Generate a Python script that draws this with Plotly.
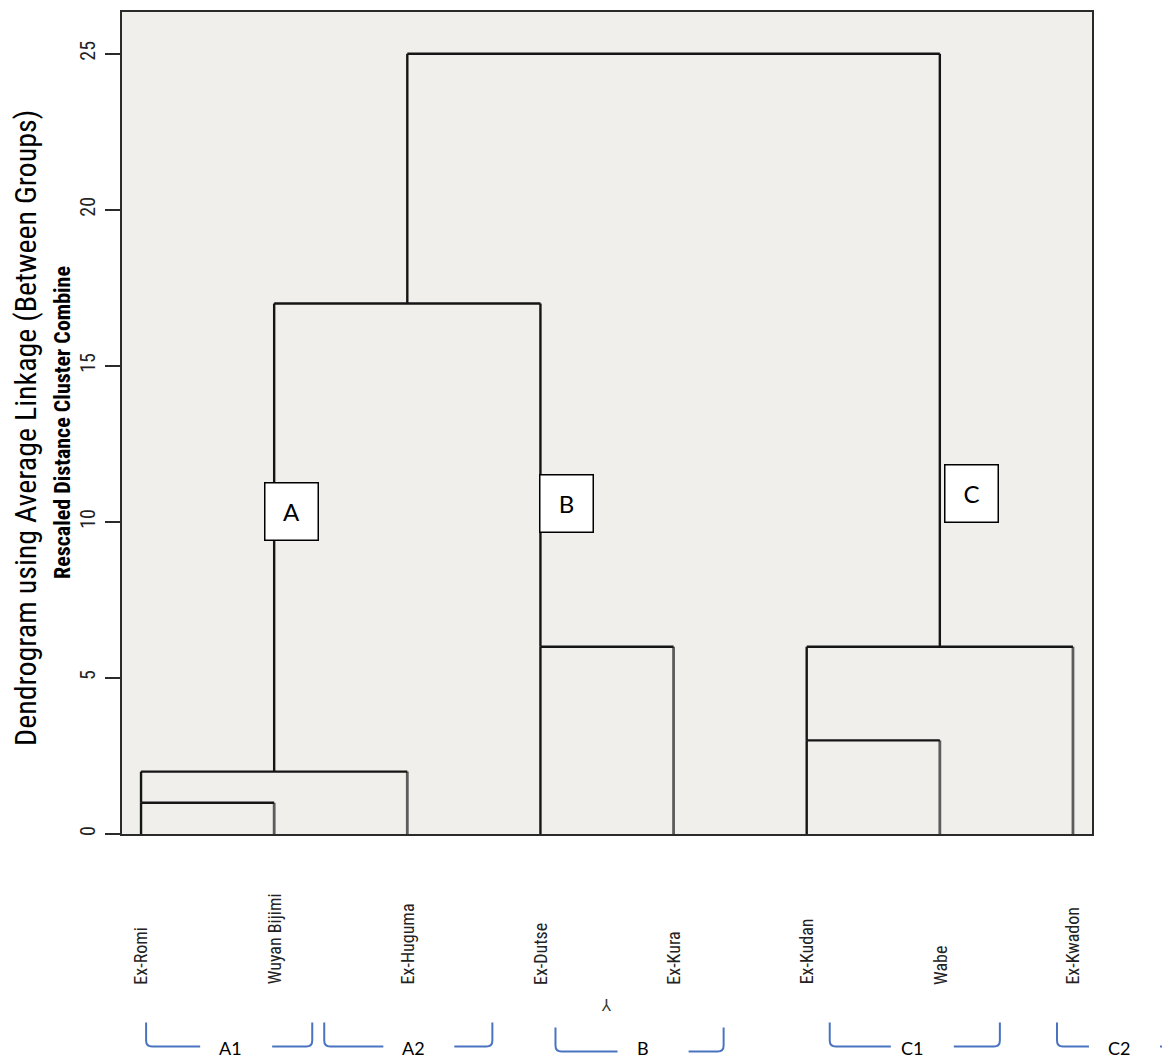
import math
import plotly.graph_objects as go

# ---------------- data ----------------
leaf_labels = ["Ex-Romi", "Wuyan Bijimi", "Ex-Huguma", "Ex-Dutse",
               "Ex-Kura", "Ex-Kudan", "Wabe", "Ex-Kwadon"]
# agglomeration steps: nodes 0-7 are leaves, node 8+k is created by step k
merge_left = [0, 8, 5, 3, 10, 9, 13]
merge_right = [1, 2, 6, 4, 7, 11, 12]
merge_height = [1, 2, 3, 6, 6, 17, 25]   # rescaled distance cluster combine
y_ticks = [0, 5, 10, 15, 20, 25]

cluster_names = ["A", "B", "C"]
cluster_label_x = [2.13, 4.195, 7.24]      # in leaf units
cluster_label_y = [10.34, 10.58, 10.90]    # in rescaled distance

group_names = ["A1", "A2", "B", "C1", "C2"]
group_label_x = [1.669, 3.045, 4.774, 6.789, 8.346]
group_left_piece = [(1.038, 1.444), (2.376, 2.820), (4.113, 4.579), (6.173, 6.632), (7.880, 8.120)]
group_right_piece = [(1.985, 2.286), (3.353, 3.639), (5.113, 5.376), (7.105, 7.451), (8.654, 8.962)]
group_drop = [0, 0, 1, 0, 0]   # B bracket sits slightly lower

# ---------------- layout constants ----------------
BODY = 8                       # default page margin of the html body
W, H = 1170 - BODY, 1059 - BODY
M_L, M_R, M_T, M_B = 122 - BODY, 78, 10 - BODY, 225
X_RANGE = [0.857, 8.143]
Y_RANGE = [0, 26.34]
PLOT_W = W - M_L - M_R
PLOT_H = H - M_T - M_B
PLOT_LEFT_PAGE = M_L + BODY
AXIS_PAGE_Y = 834

NARROW = "Liberation Sans Narrow, Arial Narrow, Roboto Condensed, Liberation Sans, sans-serif"
CAL = "Lato, Carlito, Calibri, Open Sans, sans-serif"

def xpaper(u):
    return (u - X_RANGE[0]) / (X_RANGE[1] - X_RANGE[0])

def xpage(px):
    return (px - PLOT_LEFT_PAGE) / PLOT_W

def ypage(py):
    return (AXIS_PAGE_Y - py) / PLOT_H

def ypx(px_below_axis):
    return -px_below_axis / PLOT_H

# ---------------- build dendrogram segments ----------------
n = len(leaf_labels)
node_x = {i: i + 1 for i in range(n)}
node_h = {i: 0 for i in range(n)}
dark_x, dark_y, grey_x, grey_y = [], [], [], []
for k, (l, r, h) in enumerate(zip(merge_left, merge_right, merge_height)):
    xl, xr = node_x[l], node_x[r]
    dark_x += [xl, xl, None]; dark_y += [node_h[l], h, None]
    if r < n:   # leaf legs on the right side are drawn in a softer grey
        grey_x += [xr, xr, None]; grey_y += [node_h[r], h, None]
    else:
        dark_x += [xr, xr, None]; dark_y += [node_h[r], h, None]
    dark_x += [xl, xr, None]; dark_y += [h, h, None]
    node_x[n + k] = math.floor((xl + xr) / 2)
    node_h[n + k] = h

fig = go.Figure()
fig.add_trace(go.Scatter(x=grey_x, y=grey_y, mode="lines",
                         line=dict(color="#5c5c5c", width=2.8),
                         hoverinfo="skip", showlegend=False, cliponaxis=False))
fig.add_trace(go.Scatter(x=dark_x, y=dark_y, mode="lines",
                         line=dict(color="#151515", width=2.4),
                         hoverinfo="skip", showlegend=False, cliponaxis=False))

annotations = []
for i, lab in enumerate(leaf_labels):
    annotations.append(dict(x=i + 1, xref="x", y=ypx(153), yref="paper",
                            text=lab, textangle=-90, showarrow=False,
                            xanchor="center", yanchor="bottom",
                            font=dict(family=NARROW, size=18, color="#222")))

for name, cx, cy in zip(cluster_names, cluster_label_x, cluster_label_y):
    annotations.append(dict(x=cx, xref="x", y=cy, yref="y", text=name,
                            showarrow=False, width=52, height=56,
                            xanchor="center", yanchor="middle",
                            bgcolor="white", bordercolor="black",
                            borderwidth=1.5, borderpad=0,
                            font=dict(family=CAL, size=24, color="black")))

annotations.append(dict(x=xpage(26), xref="paper", y=ypage(427),
                        yref="paper", textangle=-90, showarrow=False,
                        xanchor="center", yanchor="middle",
                        text="Dendrogram using Average Linkage (Between Groups)",
                        font=dict(family=NARROW, size=30, color="black")))
annotations.append(dict(x=xpage(62), xref="paper", y=ypage(422),
                        yref="paper", textangle=-90, showarrow=False,
                        xanchor="center", yanchor="middle",
                        text="<b>Rescaled Distance Cluster Combine</b>",
                        font=dict(family=NARROW, size=22, color="black")))

annotations.append(dict(x=xpaper(4.50), xref="paper", y=ypx(171), yref="paper",
                        text="Y", textangle=180, showarrow=False,
                        xanchor="center", yanchor="middle",
                        font=dict(family="DejaVu Sans", size=15, color="#333")))

shapes = []
BLUE = "#4a74c0"
rx = 6 / PLOT_W
ry = 6 / PLOT_H
for name, lx, lp, rp, drop in zip(group_names, group_label_x, group_left_piece,
                                  group_right_piece, group_drop):
    yt = ypx(189 + 5 * drop)
    yb = ypx(213 + 5 * drop)
    x0, x1 = xpaper(lp[0]), xpaper(lp[1])
    shapes.append(dict(type="path", xref="paper", yref="paper",
                       path=f"M {x0},{yt} L {x0},{yb + ry} Q {x0},{yb} {x0 + rx},{yb} L {x1},{yb}",
                       line=dict(color=BLUE, width=2)))
    x2, x3 = xpaper(rp[0]), xpaper(rp[1])
    shapes.append(dict(type="path", xref="paper", yref="paper",
                       path=f"M {x2},{yb} L {x3 - rx},{yb} Q {x3},{yb} {x3},{yb + ry} L {x3},{yt}",
                       line=dict(color=BLUE, width=2)))
    annotations.append(dict(x=xpaper(lx), xref="paper", y=ypx(215), yref="paper",
                            text=name, showarrow=False, xanchor="center", yanchor="middle",
                            font=dict(family=CAL, size=18, color="black")))

fig.update_layout(
    width=W, height=H,
    margin=dict(l=M_L, r=M_R, t=M_T, b=M_B),
    paper_bgcolor="white",
    plot_bgcolor="#f0efec",
    annotations=annotations,
    shapes=shapes,
    xaxis=dict(range=X_RANGE, showgrid=False, zeroline=False, showticklabels=False,
               ticks="", showline=True, mirror=True, linecolor="#2a2a2a", linewidth=2),
    yaxis=dict(range=Y_RANGE, tickvals=y_ticks, ticktext=[str(v) for v in y_ticks],
               showgrid=False, zeroline=False, ticks="outside", ticklen=15,
               tickwidth=1.5, tickcolor="#2a2a2a", tickangle=-90,
               ticklabelstandoff=2,
               tickfont=dict(family=NARROW, size=20, color="#222"),
               showline=True, mirror=True, linecolor="#2a2a2a", linewidth=2),
)

fig.write_html("out.html")
